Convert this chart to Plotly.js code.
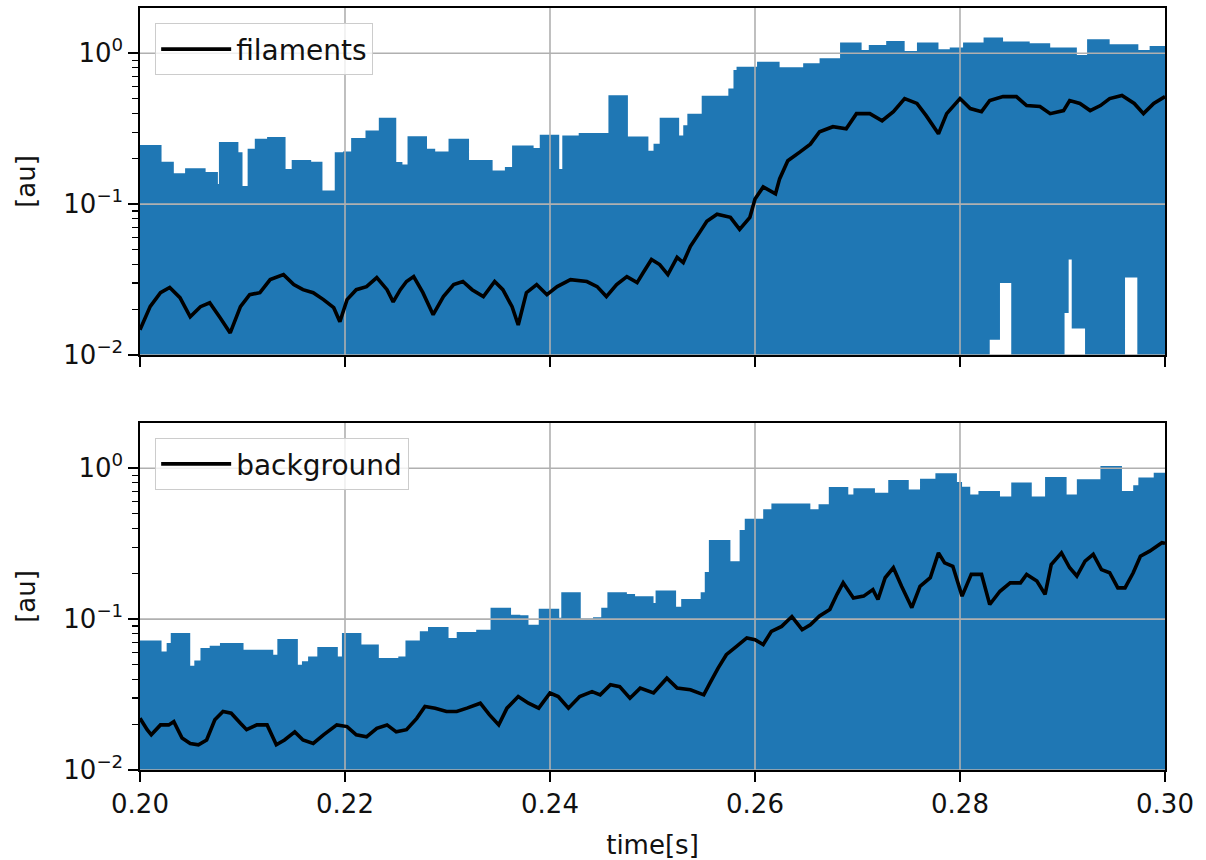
<!DOCTYPE html>
<html><head><meta charset="utf-8">
<script src="https://cdn.plot.ly/plotly-3.0.1.min.js"></script>
<style>body{margin:0;background:#fff}#chart{width:1206px;height:860px}</style>
</head><body><div id="chart"></div>
<script>
// ---- filaments (top panel) : black trace ----
const tFil = [0.2000,0.2010,0.2020,0.2029,0.2039,0.2049,0.2059,0.2068,0.2078,0.2088,0.2098,0.2107,0.2117,0.2127,0.2140,0.2150,0.2159,0.2169,0.2179,0.2189,0.2195,0.2202,0.2211,0.2221,0.2231,0.2241,0.2247,0.2254,0.2260,0.2267,0.2276,0.2286,0.2296,0.2306,0.2315,0.2324,0.2335,0.2346,0.2354,0.2363,0.2369,0.2377,0.2387,0.2397,0.2407,0.2420,0.2436,0.2446,0.2455,0.2465,0.2475,0.2485,0.2491,0.2499,0.2507,0.2515,0.2524,0.2530,0.2537,0.2546,0.2553,0.2563,0.2576,0.2585,0.2595,0.2600,0.2608,0.2620,0.2624,0.2632,0.2644,0.2654,0.2663,0.2676,0.2689,0.2699,0.2712,0.2724,0.2735,0.2746,0.2758,0.2767,0.2779,0.2787,0.2800,0.2810,0.2821,0.2829,0.2842,0.2855,0.2865,0.2878,0.2888,0.2901,0.2907,0.2917,0.2927,0.2937,0.2946,0.2958,0.2970,0.2979,0.2989,0.3000];
const filaments = [0.0147,0.0210,0.0259,0.0280,0.0240,0.0179,0.0209,0.0222,0.0177,0.0140,0.0209,0.0251,0.0259,0.0316,0.0341,0.0293,0.0271,0.0259,0.0233,0.0206,0.0166,0.0233,0.0271,0.0284,0.0326,0.0271,0.0225,0.0271,0.0307,0.0331,0.0259,0.0185,0.0244,0.0293,0.0307,0.0271,0.0244,0.0307,0.0271,0.0209,0.0158,0.0259,0.0293,0.0251,0.0284,0.0316,0.0307,0.0284,0.0244,0.0293,0.0331,0.0302,0.0352,0.0430,0.0398,0.0341,0.0444,0.0410,0.0525,0.0650,0.0771,0.0857,0.0818,0.0681,0.0818,0.108,0.130,0.117,0.147,0.194,0.222,0.250,0.302,0.326,0.316,0.398,0.398,0.357,0.410,0.501,0.465,0.386,0.293,0.398,0.501,0.430,0.410,0.486,0.516,0.516,0.450,0.444,0.398,0.417,0.486,0.465,0.417,0.450,0.501,0.525,0.465,0.398,0.465,0.516];

// ---- filaments envelope (blue stepped band) ----
const tFilUpper = [0.2000,0.2021,0.2033,0.2044,0.2064,0.2076,0.2077,0.2096,0.2100,0.2105,0.2112,0.2124,0.2142,0.2148,0.2167,0.2178,0.2190,0.2198,0.2206,0.2220,0.2233,0.2250,0.2256,0.2261,0.2280,0.2288,0.2301,0.2321,0.2344,0.2356,0.2363,0.2384,0.2390,0.2409,0.2412,0.2428,0.2457,0.2476,0.2496,0.2501,0.2507,0.2526,0.2530,0.2534,0.2548,0.2574,0.2579,0.2582,0.2602,0.2624,0.2647,0.2663,0.2683,0.2704,0.2711,0.2728,0.2746,0.2758,0.2779,0.2790,0.2803,0.2823,0.2842,0.2868,0.2888,0.2914,0.2924,0.2946,0.2974,0.2985,0.3000];
const filUpper = [0.247,0.191,0.160,0.173,0.163,0.136,0.258,0.221,0.132,0.233,0.271,0.279,0.171,0.196,0.191,0.123,0.221,0.223,0.274,0.308,0.374,0.190,0.183,0.282,0.233,0.223,0.271,0.196,0.167,0.176,0.245,0.236,0.288,0.171,0.285,0.296,0.527,0.281,0.226,0.251,0.374,0.285,0.333,0.398,0.522,0.585,0.774,0.815,0.879,0.807,0.857,0.927,1.178,1.052,1.135,1.208,1.035,1.178,1.064,1.091,1.178,1.274,1.197,1.167,1.091,0.975,1.239,1.148,1.052,1.119,1.119];
const tFilLower = [0.2000,0.2829,0.2839,0.2850,0.2902,0.2906,0.2909,0.2922,0.2961,0.2973,0.3000];
const filLower = [0.001,0.0126,0.030,0.001,0.019,0.043,0.015,0.001,0.0327,0.001,0.001];

// ---- background (bottom panel) : black trace ----
const tBg = [0.2000,0.2007,0.2011,0.2020,0.2028,0.2033,0.2041,0.2049,0.2057,0.2065,0.2073,0.2081,0.2089,0.2098,0.2104,0.2114,0.2124,0.2133,0.2141,0.2151,0.2159,0.2169,0.2179,0.2192,0.2202,0.2211,0.2221,0.2231,0.2241,0.2250,0.2260,0.2270,0.2278,0.2288,0.2299,0.2309,0.2319,0.2332,0.2341,0.2350,0.2358,0.2369,0.2379,0.2389,0.2400,0.2408,0.2418,0.2429,0.2441,0.2449,0.2459,0.2468,0.2478,0.2488,0.2501,0.2514,0.2524,0.2537,0.2550,0.2556,0.2564,0.2572,0.2582,0.2592,0.2600,0.2608,0.2616,0.2626,0.2636,0.2646,0.2654,0.2663,0.2673,0.2680,0.2686,0.2696,0.2706,0.2715,0.2720,0.2727,0.2735,0.2743,0.2753,0.2761,0.2771,0.2779,0.2785,0.2793,0.2802,0.2811,0.2821,0.2829,0.2839,0.2849,0.2859,0.2865,0.2875,0.2883,0.2889,0.2899,0.2907,0.2914,0.2922,0.2930,0.2938,0.2946,0.2954,0.2961,0.2969,0.2976,0.2985,0.2997,0.3000];
const background = [0.0220,0.0185,0.0171,0.0199,0.0199,0.0209,0.0163,0.0150,0.0147,0.0158,0.0215,0.0244,0.0238,0.0204,0.0185,0.0199,0.0199,0.0147,0.0158,0.0179,0.0158,0.0150,0.0171,0.0199,0.0194,0.0171,0.0166,0.0189,0.0199,0.0179,0.0185,0.0220,0.0264,0.0257,0.0244,0.0244,0.0257,0.0277,0.0232,0.0199,0.0257,0.0307,0.0277,0.0257,0.0324,0.0307,0.0257,0.0307,0.0331,0.0315,0.0367,0.0357,0.0299,0.0349,0.0324,0.0406,0.0349,0.0340,0.0315,0.0377,0.0474,0.0581,0.0659,0.0750,0.0731,0.0678,0.0830,0.0895,0.104,0.0851,0.0918,0.105,0.116,0.146,0.174,0.138,0.142,0.157,0.135,0.188,0.219,0.165,0.119,0.165,0.188,0.275,0.236,0.224,0.142,0.198,0.198,0.125,0.153,0.174,0.174,0.198,0.179,0.146,0.230,0.275,0.219,0.193,0.242,0.269,0.213,0.203,0.161,0.161,0.203,0.261,0.282,0.321,0.318];

// ---- background envelope (blue stepped band) ----
const tBgUpper = [0.2000,0.2021,0.2026,0.2030,0.2049,0.2053,0.2059,0.2068,0.2078,0.2101,0.2130,0.2134,0.2154,0.2158,0.2164,0.2173,0.2193,0.2197,0.2216,0.2233,0.2252,0.2259,0.2273,0.2281,0.2301,0.2309,0.2328,0.2342,0.2362,0.2371,0.2379,0.2389,0.2409,0.2411,0.2430,0.2442,0.2450,0.2456,0.2475,0.2483,0.2501,0.2503,0.2523,0.2528,0.2547,0.2551,0.2555,0.2576,0.2585,0.2590,0.2608,0.2616,0.2654,0.2662,0.2672,0.2691,0.2696,0.2717,0.2730,0.2750,0.2761,0.2776,0.2797,0.2802,0.2810,0.2818,0.2839,0.2850,0.2870,0.2883,0.2904,0.2914,0.2937,0.2958,0.2969,0.2974,0.2989,0.3000];
const bgUpper = [0.0723,0.0611,0.0695,0.0809,0.0491,0.0532,0.0644,0.0667,0.0695,0.0627,0.0581,0.0738,0.0499,0.0525,0.0566,0.0653,0.0566,0.0809,0.0678,0.0552,0.0566,0.0723,0.0830,0.0887,0.0750,0.0822,0.0851,0.119,0.107,0.106,0.0918,0.117,0.102,0.151,0.101,0.103,0.119,0.151,0.147,0.142,0.128,0.155,0.121,0.136,0.151,0.205,0.334,0.242,0.389,0.463,0.535,0.585,0.535,0.577,0.752,0.671,0.736,0.689,0.836,0.724,0.853,0.927,0.811,0.755,0.671,0.706,0.649,0.804,0.649,0.875,0.671,0.845,1.035,0.706,0.771,0.867,0.935,0.935];
const tBgLower = [0.2000,0.3000];
const bgLower = [0.001,0.001];

// ---- axes ----
const xTickVals = [0.20,0.22,0.24,0.26,0.28,0.30];
const xTickText = ['0.20','0.22','0.24','0.26','0.28','0.30'];
const yTickVals = [0.01,0.1,1];
const yTickText = ['10<sup>\u22122</sup>','10<sup>\u22121</sup>','10<sup>0</sup>'];
const seriesNames = ['filaments','background'];

const BLUE = '#1f77b4';
const FONT = 'DejaVu Sans';
const FS = 26;

const yMinor = [];
[0.01,0.1,1].forEach(d=>{for(let k=2;k<=9;k++) yMinor.push(+(d*k).toPrecision(3));});

function gridTraces(xa, ya){
  const gx=[],gy=[];
  xTickVals.slice(1,-1).forEach(v=>{gx.push(v,v,null);gy.push(1e-4,1e3,null);});
  const hx=[],hy=[];
  yTickVals.forEach(v=>{hx.push(0.19,0.31,null);hy.push(v,v,null);});
  const st={mode:'lines',line:{color:'#b0b0b0',width:1.6},hoverinfo:'skip',showlegend:false,xaxis:xa,yaxis:ya,cliponaxis:true};
  return [Object.assign({x:gx,y:gy},st),Object.assign({x:hx,y:hy},st)];
}

function band(tLo,lo,tUp,up,xa,ya){
  return [
    {x:tLo,y:lo,mode:'lines',line:{width:0,shape:'hv',color:BLUE},hoverinfo:'skip',showlegend:false,xaxis:xa,yaxis:ya},
    {x:tUp,y:up,mode:'lines',line:{width:0,shape:'hv',color:BLUE},fill:'tonexty',fillcolor:BLUE,hoverinfo:'skip',showlegend:false,xaxis:xa,yaxis:ya}
  ];
}

const traces = [].concat(
  band(tFilLower,filLower,tFilUpper,filUpper,'x','y'),
  gridTraces('x','y'),
  [{x:tFil,y:filaments,mode:'lines',name:seriesNames[0],line:{color:'black',width:3.6,simplify:false},xaxis:'x',yaxis:'y',legend:'legend'}],
  band(tBgLower,bgLower,tBgUpper,bgUpper,'x2','y2'),
  gridTraces('x2','y2'),
  [{x:tBg,y:background,mode:'lines',name:seriesNames[1],line:{color:'black',width:3.6,simplify:false},xaxis:'x2',yaxis:'y2',legend:'legend2'}]
);

const xBase = {range:[0.2,0.3],tickmode:'array',tickvals:xTickVals,ticktext:xTickText,ticks:'outside',ticklen:10,tickwidth:1.6,tickcolor:'black',
  showline:true,mirror:true,linecolor:'black',linewidth:1.6,showgrid:false,zeroline:false,tickfont:{family:FONT,size:FS,color:'#111'}};
const yBase = {type:'log',range:[-2,0.3],tickmode:'array',tickvals:yTickVals,ticktext:yTickText,ticks:'outside',ticklen:10,tickwidth:1.6,tickcolor:'black',
  minor:{tickmode:'array',tickvals:yMinor,ticks:'outside',ticklen:6,tickwidth:1.2,tickcolor:'black',showgrid:false},
  showline:true,mirror:true,linecolor:'black',linewidth:1.6,showgrid:false,zeroline:false,tickfont:{family:FONT,size:FS,color:'#111'},
  title:{text:'[au]',font:{family:FONT,size:FS,color:'#111'},standoff:20}};

const legBase = {xanchor:'left',yanchor:'top',bgcolor:'rgba(255,255,255,0.8)',bordercolor:'#cccccc',borderwidth:1.2,
  font:{family:FONT,size:28,color:'#111'},itemwidth:70,entrywidth:222,entrywidthmode:'pixels'};

const layout = {
  width:1206,height:860,margin:{l:140,r:41,t:8,b:90},
  paper_bgcolor:'white',plot_bgcolor:'white',
  font:{family:FONT,size:FS,color:'#111'},
  xaxis:Object.assign({},xBase,{domain:[0,1],anchor:'y',showticklabels:false}),
  yaxis:Object.assign({},yBase,{domain:[0.5446,1],anchor:'x'}),
  xaxis2:Object.assign({},xBase,{domain:[0,1],anchor:'y2',matches:'x',title:{text:'time[s]',font:{family:FONT,size:FS,color:'#111'},standoff:18}}),
  yaxis2:Object.assign({},yBase,{domain:[0,0.4554],anchor:'x2'}),
  legend:Object.assign({},legBase,{x:0.0146,y:0.980}),
  legend2:Object.assign({},legBase,{x:0.0146,y:0.4357,entrywidth:262}),
  hovermode:false
};

Plotly.newPlot('chart',traces,layout,{displayModeBar:false,staticPlot:true});
</script>
</body></html>
